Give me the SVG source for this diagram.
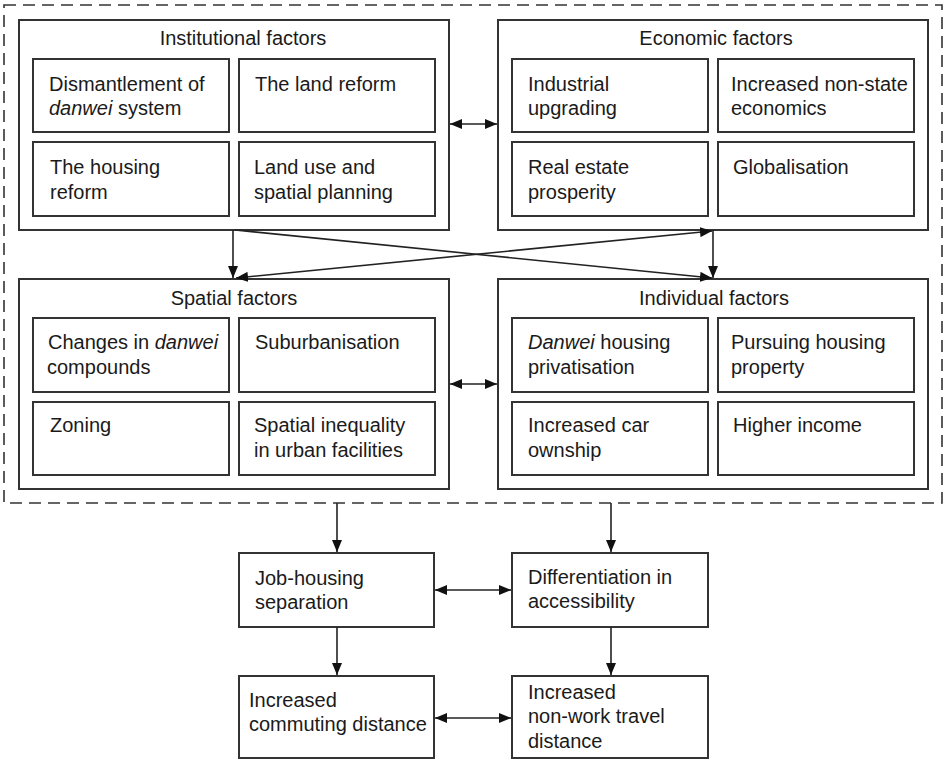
<svg xmlns="http://www.w3.org/2000/svg" width="944" height="761" viewBox="0 0 944 761">
  <style>
    text { font-family: "Liberation Sans", Arial, sans-serif; font-size: 20px; fill: #1a1a1a; }
    .title { text-anchor: middle; }
    .it { font-style: italic; }
    .frame { fill: #fff; stroke: #333; stroke-width: 2; }
    .sub { fill: #fff; stroke: #333; stroke-width: 2; }
    .dash { fill: none; stroke: #333; stroke-width: 1.6; stroke-dasharray: 12 7; }
    .link { fill: none; stroke: #222; stroke-width: 1.6; }
  </style>
  <defs>
    <marker id="head" viewBox="0 0 12 10" refX="12" refY="5" markerWidth="12" markerHeight="10" markerUnits="userSpaceOnUse" orient="auto-start-reverse">
      <path d="M0,0 L12,5 L0,10 z" fill="#111"/>
    </marker>
  </defs>
  <rect width="944" height="761" fill="#fff"/>

  <!-- dashed enclosure around the four factor groups -->
  <rect class="dash" x="4" y="5" width="938" height="498"/>

  <g id="institutional">
    <rect class="frame" x="19" y="20" width="430" height="210"/>
    <text class="title" x="243" y="45">Institutional factors</text>
    <rect class="sub" x="33" y="59" width="196" height="73"/>
    <text x="49" y="91">Dismantlement of</text>
    <text x="49" y="115"><tspan class="it">danwei</tspan> system</text>
    <rect class="sub" x="239" y="59" width="196" height="73"/>
    <text x="255" y="91">The land reform</text>
    <rect class="sub" x="33" y="142" width="196" height="74"/>
    <text x="50" y="174">The housing</text>
    <text x="50" y="199">reform</text>
    <rect class="sub" x="239" y="142" width="196" height="74"/>
    <text x="254" y="174">Land use and</text>
    <text x="254" y="199">spatial planning</text>
  </g>

  <g id="economic">
    <rect class="frame" x="498" y="20" width="430" height="210"/>
    <text class="title" x="716" y="45">Economic factors</text>
    <rect class="sub" x="512" y="59" width="196" height="73"/>
    <text x="528" y="91">Industrial</text>
    <text x="528" y="115">upgrading</text>
    <rect class="sub" x="718" y="59" width="196" height="73"/>
    <text x="731" y="91">Increased non-state</text>
    <text x="731" y="115">economics</text>
    <rect class="sub" x="512" y="142" width="196" height="74"/>
    <text x="528" y="174">Real estate</text>
    <text x="528" y="199">prosperity</text>
    <rect class="sub" x="718" y="142" width="196" height="74"/>
    <text x="733" y="174">Globalisation</text>
  </g>

  <g id="spatial">
    <rect class="frame" x="19" y="279" width="430" height="210"/>
    <text class="title" x="234" y="305">Spatial factors</text>
    <rect class="sub" x="33" y="318" width="196" height="74"/>
    <text x="48" y="349">Changes in <tspan class="it">danwei</tspan></text>
    <text x="47" y="374">compounds</text>
    <rect class="sub" x="239" y="318" width="196" height="74"/>
    <text x="255" y="349">Suburbanisation</text>
    <rect class="sub" x="33" y="402" width="196" height="73"/>
    <text x="50" y="432">Zoning</text>
    <rect class="sub" x="239" y="402" width="196" height="73"/>
    <text x="254" y="432">Spatial inequality</text>
    <text x="254" y="457">in urban facilities</text>
  </g>

  <g id="individual">
    <rect class="frame" x="498" y="279" width="430" height="210"/>
    <text class="title" x="714" y="305">Individual factors</text>
    <rect class="sub" x="512" y="318" width="196" height="74"/>
    <text x="528" y="349"><tspan class="it">Danwei</tspan> housing</text>
    <text x="528" y="374">privatisation</text>
    <rect class="sub" x="718" y="318" width="196" height="74"/>
    <text x="731" y="349">Pursuing housing</text>
    <text x="731" y="374">property</text>
    <rect class="sub" x="512" y="402" width="196" height="73"/>
    <text x="528" y="432">Increased car</text>
    <text x="528" y="457">ownship</text>
    <rect class="sub" x="718" y="402" width="196" height="73"/>
    <text x="733" y="432">Higher income</text>
  </g>

  <g id="job-housing">
    <rect class="frame" x="239" y="553" width="195" height="74"/>
    <text x="255" y="585">Job-housing</text>
    <text x="255" y="609">separation</text>
  </g>

  <g id="accessibility">
    <rect class="frame" x="512" y="553" width="196" height="74"/>
    <text x="528" y="584">Differentiation in</text>
    <text x="528" y="608">accessibility</text>
  </g>

  <g id="commuting">
    <rect class="frame" x="239" y="676" width="195" height="82"/>
    <text x="249" y="707">Increased</text>
    <text x="249" y="731">commuting distance</text>
  </g>

  <g id="non-work">
    <rect class="frame" x="512" y="676" width="196" height="82"/>
    <text x="528" y="699">Increased</text>
    <text x="528" y="723">non-work travel</text>
    <text x="528" y="748">distance</text>
  </g>

  <g id="connectors">
    <line class="link" x1="450" y1="124" x2="497" y2="124" marker-start="url(#head)" marker-end="url(#head)"/>
    <line class="link" x1="450" y1="384" x2="497" y2="384" marker-start="url(#head)" marker-end="url(#head)"/>
    <line class="link" x1="233" y1="230" x2="233" y2="278" marker-end="url(#head)"/>
    <line class="link" x1="713" y1="230" x2="713" y2="278" marker-end="url(#head)"/>
    <line class="link" x1="235" y1="230" x2="712" y2="278" marker-end="url(#head)"/>
    <line class="link" x1="236" y1="278" x2="712" y2="231" marker-start="url(#head)" marker-end="url(#head)"/>
    <line class="link" x1="337" y1="503" x2="337" y2="552" marker-end="url(#head)"/>
    <line class="link" x1="611" y1="503" x2="611" y2="552" marker-end="url(#head)"/>
    <line class="link" x1="435" y1="590" x2="511" y2="590" marker-start="url(#head)" marker-end="url(#head)"/>
    <line class="link" x1="337" y1="627" x2="337" y2="675" marker-end="url(#head)"/>
    <line class="link" x1="611" y1="627" x2="611" y2="675" marker-end="url(#head)"/>
    <line class="link" x1="435" y1="718" x2="511" y2="718" marker-start="url(#head)" marker-end="url(#head)"/>
  </g>
</svg>
